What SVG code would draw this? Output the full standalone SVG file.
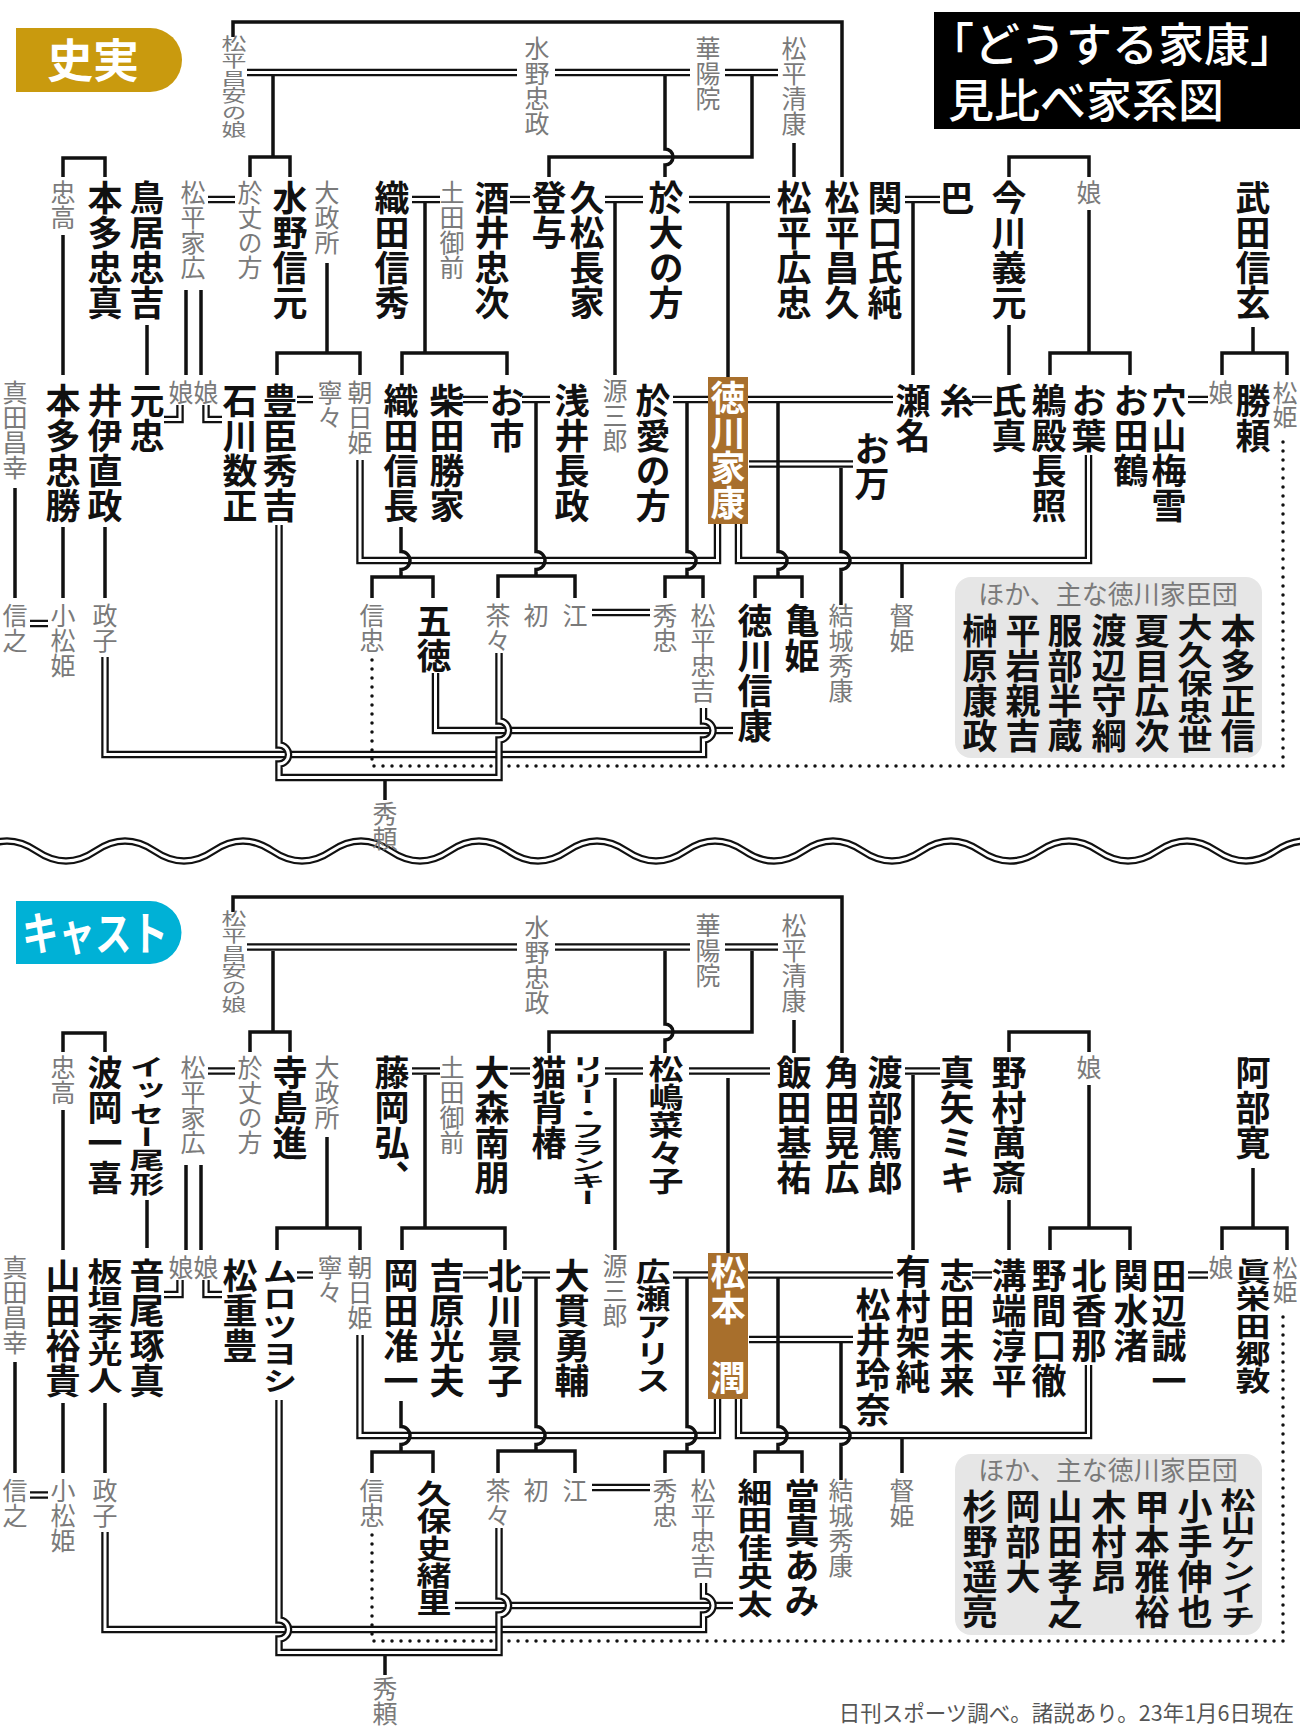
<svg xmlns="http://www.w3.org/2000/svg" xmlns:xlink="http://www.w3.org/1999/xlink" width="1300" height="1731" viewBox="0 0 1300 1731">
<style>
.n{font-family:"Noto Sans CJK JP","Noto Sans CJK SC",sans-serif;font-weight:700;font-size:35px;writing-mode:vertical-rl;fill:#111}
.g{font-family:"Noto Sans CJK JP","Noto Sans CJK SC",sans-serif;font-weight:400;font-size:25px;writing-mode:vertical-rl;fill:#7a7a7a}
.w{fill:#fff}
.s{fill:none;stroke:#111;stroke-width:3.5}
.k{fill:none;stroke:#111;stroke-width:7.5}
.c{fill:none;stroke:#fff;stroke-width:3}
.dot{fill:none;stroke:#111;stroke-width:3.5;stroke-linecap:round;stroke-dasharray:0 9}
.h{font-family:"Noto Sans CJK JP","Noto Sans CJK SC",sans-serif}
</style>
<defs>
<path id="wave" d="M-22.5,851 Q7,831 36.5,851 t59,0 t59,0 t59,0 t59,0 t59,0 t59,0 t59,0 t59,0 t59,0 t59,0 t59,0 t59,0 t59,0 t59,0 t59,0 t59,0 t59,0 t59,0 t59,0 t59,0 t59,0 t59,0 t59,0"/>
<path id="a1" d="M247,72.5H517M555,72.5H690M725,72.5H778M208,199.5H235M412,199.5H440M510,199.5H530M605,199.5H643M689,199.5H770M905,199.5H940M297,399.5H313M463,399.5H488M522,399.5H550M673,399.5H708M748,399.5H893M749,464H853M972,399.5H992M1188,399.5H1208M30,623.5H48M592,612.5H650M180,405V419.5H164M206,405V419.5H222"/>
<path id="a2" d="M717.5,524V560.5H360V460"/>
<path id="a3" d="M738.5,524V560.5H1088.5V455"/>
<path id="a4" d="M435.5,673V730.5H733"/>
<path id="a5" d="M105,657V754.5H703.5V740A9.5,9.5 0 0 0 703.5,721V708"/>
<path id="a6" d="M279,525V745A9.5,9.5 0 0 1 279,764V777.5H499V740A9.5,9.5 0 0 0 499,721V653"/>
<path id="b1" d="M247,947H517M555,947H690M725,947H778M208,1071H235M412,1071H440M510,1071H530M605,1071H643M689,1071H770M905,1071H940M297,1275H313M463,1275H488M522,1275H550M673,1275H708M748,1275H893M749,1339.5H853M972,1275H992M1188,1275H1208M30,1495H48M592,1487.5H650M180,1280V1294.5H164M206,1280V1294.5H222"/>
<path id="b2" d="M717.5,1399V1435.5H360V1335"/>
<path id="b3" d="M738.5,1399V1435.5H1088.5V1365"/>
<path id="b4" d="M455,1605.5H733"/>
<path id="b5" d="M105,1532V1629.5H703.5V1615A9.5,9.5 0 0 0 703.5,1596V1583"/>
<path id="b6" d="M279,1400V1620A9.5,9.5 0 0 1 279,1639V1652.5H499V1615A9.5,9.5 0 0 0 499,1596V1528"/>
</defs>
<rect width="1300" height="1731" fill="#fff"/>

<g id="badge-shijitsu"><path d="M16,28H150A32,32 0 0 1 150,92H16Z" fill="#C99A0E"/><text class="h" x="93" y="77" font-size="46" font-weight="700" fill="#fff" text-anchor="middle">史実</text></g>
<g id="badge-cast"><path d="M16,901H150A31.5,31.5 0 0 1 150,964H16Z" fill="#00B1D6"/><text class="h" x="22" y="950" font-size="46" font-weight="700" fill="#fff" textLength="146" lengthAdjust="spacingAndGlyphs">キャスト</text></g>
<g id="title"><rect x="934" y="12" width="366" height="117" fill="#000"/><text class="h" font-size="46" font-weight="500" fill="#fff"><tspan x="928" y="61">「どうする家康」</tspan><tspan x="948" y="117">見比べ家系図</tspan></text></g>

<g id="connectors">
<path class="dot" d="M372,660V766H1283V435"/>
<path class="dot" d="M372,1535V1641H1283V1310"/>
<use xlink:href="#a1" class="k"/><use xlink:href="#a1" class="c"/>
<use xlink:href="#a2" class="k"/><use xlink:href="#a2" class="c"/>
<use xlink:href="#a3" class="k"/><use xlink:href="#a3" class="c"/>
<use xlink:href="#a4" class="k"/><use xlink:href="#a4" class="c"/>
<use xlink:href="#a5" class="k"/><use xlink:href="#a5" class="c"/>
<use xlink:href="#a6" class="k"/><use xlink:href="#a6" class="c"/>
<use xlink:href="#b1" class="k"/><use xlink:href="#b1" class="c"/>
<use xlink:href="#b2" class="k"/><use xlink:href="#b2" class="c"/>
<use xlink:href="#b3" class="k"/><use xlink:href="#b3" class="c"/>
<use xlink:href="#b4" class="k"/><use xlink:href="#b4" class="c"/>
<use xlink:href="#b5" class="k"/><use xlink:href="#b5" class="c"/>
<use xlink:href="#b6" class="k"/><use xlink:href="#b6" class="c"/>
<path class="s" d="M233,37V22H842V177M273,76V157M250,177V157H290V177M549,177V157H752V76M794,143V177M63,177V158H105V177M63,235V375M147,325V375M186,290V375M201,290V375M327,263V353M277,375V353H360V375M425,203V353M402,375V353H507V375M615,203V375M728,203V377M913,203V375M1009,177V157H1089V177M1089,210V353M1050,375V353H1130V375M1009,325V375M1253,327V353M1222,375V353H1287V375M15,488V598M63,527V598M105,527V598M372,598V577H433V598M498,598V576H575V598M665,598V577H703V598M755,598V577H802V598M902,564V598M385,781V800"/>
<path class="s" d="M665,76V149A8,8 0 0 1 665,165V177M401,527V551.5A9,9 0 0 1 401,569.5V577M536,403V551.5A9,9 0 0 1 536,569.5V576M687,403V551.5A9,9 0 0 1 687,569.5V577M778,403V551.5A9,9 0 0 1 778,569.5V577M841,468V551.5A9,9 0 0 1 841,569.5V605"/>
<path class="s" d="M233,912V897H842V1053M273,951V1032M250,1052V1032H290V1052M549,1053V1032H752V951M794,1020V1053M63,1052V1033H105V1052M63,1110V1250M147,1200V1248M186,1165V1250M201,1165V1250M327,1137V1228M277,1250V1228H360V1250M425,1075V1228M402,1250V1228H505V1250M615,1078V1250M728,1078V1253M913,1075V1250M1009,1052V1032H1089V1052M1089,1085V1228M1050,1250V1228H1130V1250M1009,1200V1250M1253,1168V1228M1222,1250V1228H1287V1250M15,1362V1473M63,1403V1473M105,1403V1473M372,1473V1452H433V1473M498,1473V1451H575V1473M665,1473V1452H703V1473M755,1473V1452H802V1473M902,1439V1473M385,1656V1675"/>
<path class="s" d="M665,951V1024A8,8 0 0 1 665,1040V1053M401,1401V1426.5A9,9 0 0 1 401,1444.5V1452M536,1278V1426.5A9,9 0 0 1 536,1444.5V1451M687,1278V1426.5A9,9 0 0 1 687,1444.5V1452M778,1278V1426.5A9,9 0 0 1 778,1444.5V1452M841,1343V1426.5A9,9 0 0 1 841,1444.5V1480"/>
<use xlink:href="#wave" class="k"/><use xlink:href="#wave" class="c"/>
</g>

<g id="n-masayasu-musume"><text class="g" transform="translate(234,35) scale(1,0.69)">松平昌安の娘</text></g>
<g id="n-mizuno-tadamasa"><text class="g" x="537" y="36">水野忠政</text></g>
<g id="n-keyoin"><text class="g" x="708" y="36">華陽院</text></g>
<g id="n-kiyoyasu"><text class="g" x="794" y="36">松平清康</text></g>
<g id="n-tadataka"><text class="g" x="63" y="180">忠高</text></g>
<g id="n-tadazane"><text class="n" x="105" y="180">本多忠真</text></g>
<g id="n-torii-tadayoshi"><text class="n" x="147" y="180">鳥居忠吉</text></g>
<g id="n-iehiro"><text class="g" x="193" y="180">松平家広</text></g>
<g id="n-ojo"><text class="g" x="250" y="180">於丈の方</text></g>
<g id="n-nobumoto"><text class="n" x="290" y="180">水野信元</text></g>
<g id="n-omandokoro"><text class="g" x="327" y="180">大政所</text></g>
<g id="n-nobuhide"><text class="n" x="392" y="180">織田信秀</text></g>
<g id="n-dotagozen"><text class="g" x="452" y="180">土田御前</text></g>
<g id="n-sakai"><text class="n" x="492" y="180">酒井忠次</text></g>
<g id="n-toyo"><text class="n" x="549" y="180">登与</text></g>
<g id="n-hisamatsu"><text class="n" x="587" y="180">久松長家</text></g>
<g id="n-odai"><text class="n" x="666" y="180">於大の方</text></g>
<g id="n-hirotada"><text class="n" x="794" y="180">松平広忠</text></g>
<g id="n-masahisa"><text class="n" x="842" y="180">松平昌久</text></g>
<g id="n-sekiguchi"><text class="n" x="885" y="180">関口氏純</text></g>
<g id="n-tomoe"><text class="n" x="957" y="180">巴</text></g>
<g id="n-yoshimoto"><text class="n" x="1009" y="180">今川義元</text></g>
<g id="n-musume-imagawa"><text class="g" x="1089" y="180">娘</text></g>
<g id="n-shingen"><text class="n" x="1253" y="180">武田信玄</text></g>

<g id="n-masayuki"><text class="g" x="15" y="380">真田昌幸</text></g>
<g id="n-tadakatsu"><text class="n" x="63" y="383">本多忠勝</text></g>
<g id="n-naomasa"><text class="n" x="105" y="383">井伊直政</text></g>
<g id="n-mototada"><text class="n" x="147" y="383">元忠</text></g>
<g id="n-musume1"><text class="g" x="181" y="380">娘</text></g>
<g id="n-musume2"><text class="g" x="206" y="380">娘</text></g>
<g id="n-kazumasa"><text class="n" x="240" y="383">石川数正</text></g>
<g id="n-hideyoshi"><text class="n" x="280" y="383">豊臣秀吉</text></g>
<g id="n-nene"><text class="g" x="330" y="380">寧々</text></g>
<g id="n-asahi"><text class="g" x="360" y="380">朝日姫</text></g>
<g id="n-nobunaga"><text class="n" x="401" y="383">織田信長</text></g>
<g id="n-katsuie"><text class="n" x="447" y="383">柴田勝家</text></g>
<g id="n-oichi"><text class="n" x="507" y="383">お市</text></g>
<g id="n-nagamasa"><text class="n" x="572" y="383">浅井長政</text></g>
<g id="n-genzaburo"><text class="g" x="615" y="378">源三郎</text></g>
<g id="n-oai"><text class="n" x="653" y="383">於愛の方</text></g>
<g id="n-ieyasu"><rect x="708" y="377" width="40" height="147" fill="#A86F2C"/><text class="n w" x="728" y="380">徳川家康</text></g>
<g id="n-oman"><text class="n" x="872" y="431">お万</text></g>
<g id="n-sena"><text class="n" x="913" y="383">瀬名</text></g>
<g id="n-ito"><text class="n" x="957" y="383">糸</text></g>
<g id="n-ujizane"><text class="n" x="1009" y="383">氏真</text></g>
<g id="n-udono"><text class="n" x="1049" y="383">鵜殿長照</text></g>
<g id="n-oha"><text class="n" x="1089" y="383">お葉</text></g>
<g id="n-otazu"><text class="n" x="1131" y="383">お田鶴</text></g>
<g id="n-baisetsu"><text class="n" x="1169" y="383">穴山梅雪</text></g>
<g id="n-musume-takeda"><text class="g" x="1221" y="380">娘</text></g>
<g id="n-katsuyori"><text class="n" x="1253" y="383">勝頼</text></g>
<g id="n-matsuhime"><text class="g" transform="translate(1285,381) scale(1,0.95)">松姫</text></g>

<g id="n-nobuyuki"><text class="g" x="15" y="603">信之</text></g>
<g id="n-komatsu"><text class="g" x="63" y="603">小松姫</text></g>
<g id="n-masako"><text class="g" x="105" y="603">政子</text></g>
<g id="n-nobutada"><text class="g" x="372" y="603">信忠</text></g>
<g id="n-gotoku"><text class="n" x="434" y="603">五徳</text></g>
<g id="n-chacha"><text class="g" x="498" y="603">茶々</text></g>
<g id="n-hatsu"><text class="g" x="536" y="603">初</text></g>
<g id="n-go"><text class="g" x="575" y="603">江</text></g>
<g id="n-hidetada"><text class="g" x="665" y="603">秀忠</text></g>
<g id="n-tadayoshi"><text class="g" x="703" y="603">松平忠吉</text></g>
<g id="n-nobuyasu"><text class="n" x="755" y="603">徳川信康</text></g>
<g id="n-kamehime"><text class="n" x="802" y="603">亀姫</text></g>
<g id="n-hideyasu"><text class="g" x="841" y="603">結城秀康</text></g>
<g id="n-tokuhime"><text class="g" x="902" y="603">督姫</text></g>
<g id="n-hideyori"><text class="g" x="385" y="801">秀頼</text></g>

<g id="kashindan-top">
<rect x="955" y="577" width="307" height="181" rx="16" fill="#E6E6E6"/>
<text class="h" x="1108" y="604" font-size="26" fill="#7a7a7a" text-anchor="middle">ほか、主な徳川家臣団</text>
<text class="n" x="1238" y="613">本多正信</text>
<text class="n" transform="translate(1195,613) scale(1,0.8)">大久保忠世</text>
<text class="n" x="1152" y="613">夏目広次</text>
<text class="n" x="1109" y="613">渡辺守綱</text>
<text class="n" x="1065" y="613">服部半蔵</text>
<text class="n" x="1023" y="613">平岩親吉</text>
<text class="n" x="980" y="613">榊原康政</text>
</g>

<g id="c-masayasu-musume"><text class="g" transform="translate(234,910) scale(1,0.69)">松平昌安の娘</text></g>
<g id="c-mizuno-tadamasa"><text class="g" x="537" y="915">水野忠政</text></g>
<g id="c-keyoin"><text class="g" x="708" y="913">華陽院</text></g>
<g id="c-kiyoyasu"><text class="g" x="794" y="913">松平清康</text></g>
<g id="c-tadataka"><text class="g" x="63" y="1055">忠高</text></g>
<g id="c-hamaoka"><text class="n" x="105" y="1055">波岡一喜</text></g>
<g id="c-issey"><text class="n" transform="translate(147,1055) scale(1,0.67)">イッセー尾形</text></g>
<g id="c-iehiro"><text class="g" x="193" y="1055">松平家広</text></g>
<g id="c-ojo"><text class="g" x="250" y="1055">於丈の方</text></g>
<g id="c-terajima"><text class="n" x="290" y="1055">寺島進</text></g>
<g id="c-omandokoro"><text class="g" x="327" y="1055">大政所</text></g>
<g id="c-fujioka"><text class="n" x="392" y="1055">藤岡弘、</text></g>
<g id="c-dotagozen"><text class="g" x="452" y="1055">土田御前</text></g>
<g id="c-omori"><text class="n" x="492" y="1055">大森南朋</text></g>
<g id="c-nekose"><text class="n" x="549" y="1055">猫背椿</text></g>
<g id="c-lily"><text class="n" transform="translate(588,1055) scale(1,0.48)">リリー・フランキー</text></g>
<g id="c-matsushima"><text class="n" transform="translate(666,1055) scale(1,0.8)">松嶋菜々子</text></g>
<g id="c-iida"><text class="n" x="794" y="1055">飯田基祐</text></g>
<g id="c-kakuta"><text class="n" x="842" y="1055">角田晃広</text></g>
<g id="c-watabe"><text class="n" x="885" y="1055">渡部篤郎</text></g>
<g id="c-maya"><text class="n" x="957" y="1055">真矢ミキ</text></g>
<g id="c-nomura"><text class="n" x="1009" y="1055">野村萬斎</text></g>
<g id="c-musume-imagawa"><text class="g" x="1089" y="1055">娘</text></g>
<g id="c-abe"><text class="n" x="1253" y="1055">阿部寛</text></g>

<g id="c-masayuki"><text class="g" x="15" y="1255">真田昌幸</text></g>
<g id="c-yamada-yuki"><text class="n" x="63" y="1258">山田裕貴</text></g>
<g id="c-itagaki"><text class="n" transform="translate(105,1258) scale(1,0.78)">板垣李光人</text></g>
<g id="c-otoo"><text class="n" x="147" y="1258">音尾琢真</text></g>
<g id="c-musume1"><text class="g" x="181" y="1255">娘</text></g>
<g id="c-musume2"><text class="g" x="206" y="1255">娘</text></g>
<g id="c-matsushige"><text class="n" x="240" y="1258">松重豊</text></g>
<g id="c-muro"><text class="n" transform="translate(280,1258) scale(1,0.78)">ムロツヨシ</text></g>
<g id="c-nene"><text class="g" x="330" y="1255">寧々</text></g>
<g id="c-asahi"><text class="g" x="360" y="1255">朝日姫</text></g>
<g id="c-okada"><text class="n" x="401" y="1258">岡田准一</text></g>
<g id="c-yoshihara"><text class="n" x="447" y="1258">吉原光夫</text></g>
<g id="c-kitagawa"><text class="n" x="505" y="1258">北川景子</text></g>
<g id="c-onuki"><text class="n" x="572" y="1258">大貫勇輔</text></g>
<g id="c-genzaburo"><text class="g" x="615" y="1253">源三郎</text></g>
<g id="c-hirose"><text class="n" transform="translate(653,1258) scale(1,0.78)">広瀬アリス</text></g>
<g id="c-matsumoto"><rect x="708" y="1253" width="40" height="146" fill="#A86F2C"/><text class="n w" x="728" y="1255">松本　潤</text></g>
<g id="c-matsui"><text class="n" x="873" y="1287">松井玲奈</text></g>
<g id="c-arimura"><text class="n" x="913" y="1254">有村架純</text></g>
<g id="c-shida"><text class="n" x="957" y="1258">志田未来</text></g>
<g id="c-mizobata"><text class="n" x="1009" y="1258">溝端淳平</text></g>
<g id="c-nomaguchi"><text class="n" x="1049" y="1258">野間口徹</text></g>
<g id="c-kita"><text class="n" x="1089" y="1258">北香那</text></g>
<g id="c-sekimizu"><text class="n" x="1131" y="1258">関水渚</text></g>
<g id="c-tanabe"><text class="n" x="1169" y="1258">田辺誠一</text></g>
<g id="c-musume-takeda"><text class="g" x="1221" y="1255">娘</text></g>
<g id="c-maeda"><text class="n" transform="translate(1253,1258) scale(1,0.78)">眞栄田郷敦</text></g>
<g id="c-matsuhime"><text class="g" transform="translate(1285,1256) scale(1,0.95)">松姫</text></g>

<g id="c-nobuyuki"><text class="g" x="15" y="1478">信之</text></g>
<g id="c-komatsu"><text class="g" x="63" y="1478">小松姫</text></g>
<g id="c-masako"><text class="g" x="105" y="1478">政子</text></g>
<g id="c-nobutada"><text class="g" x="372" y="1478">信忠</text></g>
<g id="c-kubo"><text class="n" transform="translate(434,1480) scale(1,0.78)">久保史緒里</text></g>
<g id="c-chacha"><text class="g" x="498" y="1478">茶々</text></g>
<g id="c-hatsu"><text class="g" x="536" y="1478">初</text></g>
<g id="c-go"><text class="g" x="575" y="1478">江</text></g>
<g id="c-hidetada"><text class="g" x="665" y="1478">秀忠</text></g>
<g id="c-tadayoshi"><text class="g" x="703" y="1478">松平忠吉</text></g>
<g id="c-hosoda"><text class="n" transform="translate(755,1478) scale(1,0.8)">細田佳央太</text></g>
<g id="c-toma"><text class="n" x="802" y="1478">當真あみ</text></g>
<g id="c-hideyasu"><text class="g" x="841" y="1478">結城秀康</text></g>
<g id="c-tokuhime"><text class="g" x="902" y="1478">督姫</text></g>
<g id="c-hideyori"><text class="g" x="385" y="1676">秀頼</text></g>

<g id="kashindan-cast">
<rect x="955" y="1454" width="307" height="181" rx="16" fill="#E6E6E6"/>
<text class="h" x="1108" y="1480" font-size="26" fill="#7a7a7a" text-anchor="middle">ほか、主な徳川家臣団</text>
<text class="n" transform="translate(1238,1488) scale(1,0.67)">松山ケンイチ</text>
<text class="n" x="1195" y="1489">小手伸也</text>
<text class="n" x="1152" y="1489">甲本雅裕</text>
<text class="n" x="1109" y="1489">木村昂</text>
<text class="n" x="1065" y="1489">山田孝之</text>
<text class="n" x="1023" y="1489">岡部大</text>
<text class="n" x="980" y="1489">杉野遥亮</text>
</g>

<g id="footer"><text class="h" x="1294" y="1721" font-size="21.5" fill="#555" text-anchor="end">日刊スポーツ調べ。諸説あり。23年1月6日現在</text></g>
</svg>
